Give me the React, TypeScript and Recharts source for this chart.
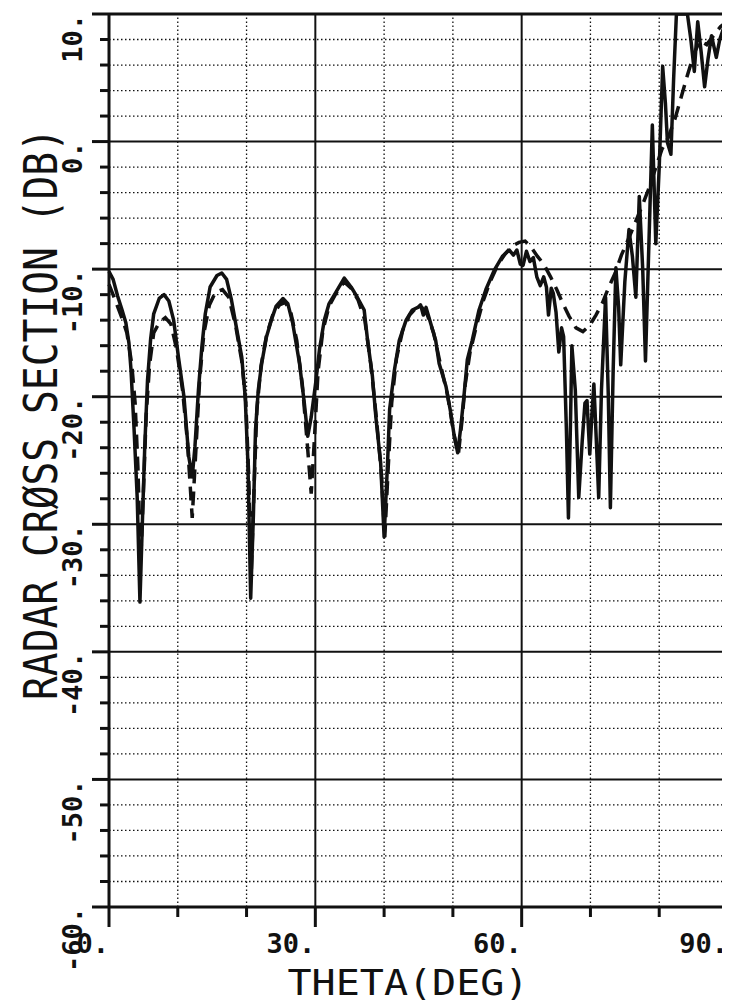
import { LineChart, Line, XAxis, YAxis, ReferenceLine, Label } from 'recharts';

// measured (solid) trace
const solidTheta = [
  0, 0.6, 1.25, 1.9, 2.45, 2.9, 3.2, 3.65, 4.1, 4.5, 4.85, 5.2, 5.6, 6.05, 6.5, 7.3, 8.0, 8.7, 9.4, 10.1,
  10.9, 11.6, 12.1, 12.5, 13.0, 13.5, 14.0, 14.7, 15.7, 16.4, 17.1, 17.8, 18.6, 19.3, 19.8, 20.2, 20.6, 21.0,
  21.3, 21.7, 22.2, 22.9, 23.6, 24.3, 25.3, 26.0, 26.7, 27.7, 28.4, 28.9, 29.4, 30.1, 30.6, 31.3, 32.0, 33.0,
  34.2, 35.2, 36.1, 37.1, 37.6, 38.3, 38.8, 39.5, 40.0, 40.5, 40.8, 41.5, 42.2, 43.2, 44.1, 44.9, 45.3, 45.7,
  46.1, 46.8, 47.5, 48.0, 49.0, 49.7, 50.2, 50.7, 51.1, 51.6, 52.1, 52.8, 53.8, 54.8, 56.0, 57.2, 58.2, 58.8,
  59.3, 59.8, 60.2, 60.7, 61.2, 61.7, 62.2, 62.7, 63.2, 63.6, 63.9, 64.3, 64.6, 65.0, 65.4, 65.8, 66.1, 66.5,
  66.8, 67.1, 67.3, 67.8, 68.3, 68.8, 69.2, 69.5, 69.9, 70.2, 70.5, 70.9, 71.2, 71.6, 72.2, 72.6, 72.9, 73.3,
  73.7, 74.1, 74.4, 75.0, 75.6, 76.1, 76.6, 77.1, 77.6, 78.0, 78.5, 79.0, 79.5, 80.0, 80.5, 80.9, 81.2, 81.7,
  82.1, 82.5, 83.3, 84.1, 84.6, 85.1, 85.6, 86.1, 86.6, 87.1, 87.6, 88.3, 88.8, 89.3, 90.0,
];
const solidDb = [
  -10.2, -10.8, -12.1, -13.2, -14.2, -15.8, -17.9, -22.6, -27.9, -36.1, -29.9, -23.9, -18.7, -15.5, -13.5, -12.3, -12.0, -12.5, -14.0, -16.9,
  -20.0, -24.7, -26.3, -23.9, -19.5, -16.1, -13.5, -11.4, -10.5, -10.3, -10.8, -12.4, -14.8, -16.9, -20.0, -25.2, -35.8, -29.2,
  -22.6, -19.5, -17.4, -15.3, -14.0, -12.9, -12.3, -12.7, -14.2, -17.4, -20.5, -23.1, -21.6, -18.7, -16.3, -14.0, -12.7, -11.8,
  -10.7, -11.4, -12.2, -13.2, -15.6, -18.4, -21.6, -25.2, -31.0, -25.2, -21.0, -17.9, -15.6, -14.0, -13.2, -13.0, -12.8, -13.6,
  -13.0, -14.3, -15.6, -17.4, -19.2, -21.3, -23.1, -24.4, -22.6, -20.0, -17.1, -15.6, -13.2, -11.6, -10.1, -9.0, -8.5, -8.9,
  -8.5, -9.6, -9.7, -8.6, -9.4, -9.1, -10.6, -11.3, -10.6, -11.4, -13.6, -11.5, -11.9, -13.4, -16.5, -14.6, -15.3, -22.5,
  -29.5, -22.0, -16.0, -19.5, -27.9, -23.5, -20.5, -20.3, -24.5, -21.5, -19.0, -24.0, -27.9, -19.5, -12.2, -20.0, -28.7, -18.0,
  -9.9, -13.0, -17.5, -11.0, -6.9, -9.0, -12.2, -4.3, -10.0, -17.2, -8.0, 1.3, -8.0, -2.0, 5.9, 3.0, -0.1, -1.0,
  5.0, 10.0, 10.0, 10.0, 8.0, 5.5, 9.4, 7.0, 4.3, 6.5, 8.3, 6.6, 8.0, 8.8, 7.5,
];

// calculated (dashed) trace
const dashedTheta = [
  0, 0.8, 2.0, 2.6, 3.3, 3.8, 4.2, 4.6, 5.0, 5.4, 5.9, 6.5, 7.3, 8.2, 9.0, 9.8, 10.7, 11.4, 12.1, 12.6,
  13.2, 13.8, 14.6, 15.5, 16.5, 17.4, 18.4, 19.3, 19.9, 20.3, 20.7, 21.1, 21.5, 22.1, 22.9, 23.8, 24.8, 25.6,
  26.4, 27.3, 28.1, 28.8, 29.4, 29.9, 30.4, 31.1, 32.0, 33.0, 34.2, 35.2, 36.2, 37.2, 38.1, 38.9, 39.6, 40.1,
  40.6, 41.1, 41.8, 42.7, 43.7, 44.7, 45.5, 46.3, 47.2, 48.2, 49.2, 50.1, 50.8, 51.3, 51.8, 52.5, 53.4, 54.4,
  55.4, 56.5, 57.6, 58.6, 59.6, 60.5, 61.4, 62.3, 63.2, 64.2, 65.1, 66.0, 66.9, 67.9, 68.9, 69.9, 70.8, 71.7,
  72.6, 73.6, 74.5, 75.4, 76.4, 77.4, 78.4, 79.4, 80.4, 81.3, 82.3, 83.2, 84.1, 85.0, 85.9, 86.9, 87.9, 88.9, 90.0,
];
const dashedDb = [
  -11.2, -12.3, -14.0, -15.0, -17.4, -20.5, -25.5, -33.0, -27.5, -21.5, -17.5, -15.0, -14.2, -13.8, -14.3, -16.2, -19.5, -23.5, -29.5, -24.5,
  -18.5, -15.0, -12.8, -11.8, -11.6, -12.2, -14.4, -17.2, -20.5, -26.0, -33.5, -27.0, -21.0, -17.6, -15.2, -13.6, -12.8, -12.6,
  -13.3, -15.6, -19.0, -23.5, -27.6, -23.0, -18.0, -14.8, -12.9, -11.9, -11.0, -11.5, -12.4, -14.0, -17.6, -21.8, -26.0, -31.0,
  -25.5, -20.5, -17.0, -14.8, -13.6, -13.0, -13.0, -13.6, -15.0, -17.5, -19.8, -22.8, -24.5, -22.0, -19.0, -16.5, -14.5, -12.5,
  -11.0, -9.7, -8.8, -8.2, -7.9, -7.8, -8.3, -9.0, -9.6, -10.6, -11.6, -12.7, -13.7, -14.6, -14.9, -14.4, -13.6, -12.7,
  -11.5, -10.3, -8.9, -7.8, -6.5, -5.2, -3.8, -2.2, -0.6, 0.3, 1.8, 3.5, 5.2, 6.8, 7.9, 7.6, 8.3, 9.0, 9.5,
];

const xTicks = [0, 10, 20, 30, 40, 50, 60, 70, 80, 90];
const xLabeled = [0, 30, 60, 90];
const yTicks = [
  -60, -58, -56, -54, -52, -50, -48, -46, -44, -42, -40, -38, -36, -34, -32, -30, -28, -26,
  -24, -22, -20, -18, -16, -14, -12, -10, -8, -6, -4, -2, 0, 2, 4, 6, 8, 10,
];
const yLabeled = [-60, -50, -40, -30, -20, -10, 0, 10];

const solidData = solidTheta.map((t, i) => ({ theta: t, db: solidDb[i] }));
const dashedData = dashedTheta.map((t, i) => ({ theta: t, db: dashedDb[i] }));

const FONT = '"DejaVu Sans Mono", "Liberation Mono", monospace';
const INK = '#111';

function XTick({ x, y, payload }: any) {
  const v = payload.value;
  const big = xLabeled.includes(v);
  return (
    <g>
      <line x1={x} x2={x} y1={y} y2={y + (big ? 20 : 10)} stroke={INK} strokeWidth={3} />
      {big && (
        <text x={x} y={y + 46} textAnchor="end" fontFamily={FONT} fontSize={27} fontWeight="bold" fill={INK}>
          {`${v}.`}
        </text>
      )}
    </g>
  );
}

function YTick({ x, y, payload }: any) {
  const v = payload.value;
  const big = yLabeled.includes(v);
  return (
    <g>
      <line x1={x - (big ? 17 : 9)} x2={x} y1={y} y2={y} stroke={INK} strokeWidth={3} />
      {big && (
        <text
          transform={`translate(${x - 27},${y}) rotate(-90)`}
          textAnchor="end"
          fontFamily={FONT}
          fontSize={27}
          fontWeight="bold"
          fill={INK}
        >
          {`${v}.`}
        </text>
      )}
    </g>
  );
}

export default function App() {
  return (
    <div style={{ width: 722, height: 999, background: '#fff' }}>
      <LineChart width={722} height={999} margin={{ top: 6, right: 2, bottom: 0, left: 0 }}>
        <XAxis
          type="number"
          dataKey="theta"
          domain={[0, 90]}
          ticks={xTicks}
          interval={0}
          height={100}
          tickSize={0}
          tickMargin={0}
          tick={<XTick />}
          axisLine={{ stroke: INK, strokeWidth: 3 }}
          tickLine={false}
        >
          <Label
            content={() => (
              <text x={400} y={987} textAnchor="middle" fontFamily={FONT} fontSize={36} fill={INK}
                textLength={241} lengthAdjust="spacingAndGlyphs">
                THETA(DEG)
              </text>
            )}
          />
        </XAxis>
        <YAxis
          type="number"
          domain={[-60, 10]}
          allowDataOverflow
          ticks={yTicks}
          interval={0}
          width={101}
          tickSize={0}
          tickMargin={0}
          tick={<YTick />}
          axisLine={{ stroke: INK, strokeWidth: 3 }}
          tickLine={false}
        >
          <Label
            content={() => (
              <text transform="translate(49,406) rotate(-90)" textAnchor="middle" fontFamily={FONT}
                fontSize={46} fill={INK} textLength={572} lengthAdjust="spacingAndGlyphs">
                RADAR CRØSS SECTION (DB)
              </text>
            )}
          />
        </YAxis>

        {yTicks.filter((v) => v % 10 !== 0).map((v) => (
          <ReferenceLine key={`yd${v}`} y={v} stroke={INK} strokeWidth={1.3} strokeDasharray="1.5 2.5" />
        ))}
        {xTicks.filter((v) => v % 30 !== 0).map((v) => (
          <ReferenceLine key={`xd${v}`} x={v} stroke={INK} strokeWidth={1.3} strokeDasharray="1.5 2.5" />
        ))}
        {yLabeled.filter((v) => v > -60 && v < 10).map((v) => (
          <ReferenceLine key={`ys${v}`} y={v} stroke={INK} strokeWidth={2} />
        ))}
        {[30, 60, 90].map((v) => (
          <ReferenceLine key={`xs${v}`} x={v} stroke={INK} strokeWidth={2} />
        ))}
        <ReferenceLine y={10} stroke={INK} strokeWidth={3} />

        <Line
          data={dashedData}
          dataKey="db"
          type="linear"
          stroke={INK}
          strokeWidth={3.5}
          strokeDasharray="14 8"
          dot={false}
          isAnimationActive={false}
        />
        <Line
          data={solidData}
          dataKey="db"
          type="linear"
          stroke={INK}
          strokeWidth={3.5}
          strokeLinejoin="round"
          dot={false}
          isAnimationActive={false}
        />
      </LineChart>
    </div>
  );
}
